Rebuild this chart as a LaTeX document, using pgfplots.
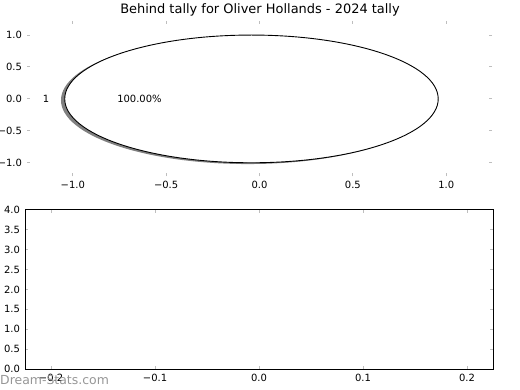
\documentclass[border=0pt]{standalone}
\usepackage{pgfplots}
\pgfplotsset{compat=1.18}
\usepackage{fontspec}
\setmainfont{DejaVu Sans}
\definecolor{tickgray}{RGB}{190,190,190}
\definecolor{shadowgray}{RGB}{128,128,128}
\definecolor{wmgray}{RGB}{150,150,150}
\begin{document}
\begin{tikzpicture}
\useasboundingbox (0,0) rectangle (520bp,390bp);
\pgfplotsset{
  every axis/.append style={
    scale only axis,
    anchor=south west,
    tick align=inside,
    major tick length=3bp,
    every tick/.style={tickgray, line width=1bp},
    tick label style={font=\fontsize{10}{12}\selectfont, text=black},
    /pgf/number format/assume math mode=true,
    xticklabel style={yshift=-1.5bp},
    yticklabel style={xshift=-1.5bp},
  }
}
% top: pie
\begin{axis}[
  at={(27bp,213.5bp)}, width=465bp, height=155.5bp,
  xmin=-1.245, xmax=1.245, ymin=-1.215, ymax=1.22,
  axis line style={draw=none},
  xtick={-1,-0.5,0,0.5,1},
  xticklabels={−1.0,−0.5,0.0,0.5,1.0},
  ytick={-1,-0.5,0,0.5,1},
  yticklabels={−1.0,−0.5,0.0,0.5,1.0},
  clip=false,
]
\fill[shadowgray] (axis cs:-0.063,-0.02) ellipse [x radius=1, y radius=1];
\filldraw[fill=white, draw=black, line width=0.9bp] (axis cs:-0.043,0) ellipse [x radius=1, y radius=1];
\addplot[only marks, mark=none, nodes near coords={1}, every node near coord/.style={font=\fontsize{10}{12}\selectfont, anchor=center}] coordinates {(-1.143,0)};
\addplot[only marks, mark=none, nodes near coords={100.00\%}, every node near coord/.style={font=\fontsize{10}{12}\selectfont, anchor=center}] coordinates {(-0.643,0)};
\end{axis}
% bottom: empty axis
\begin{axis}[
  at={(25bp,21bp)}, width=468bp, height=159bp,
  xmin=-0.225, xmax=0.225, ymin=0, ymax=4,
  axis line style={black, line width=1bp},
  xtick={-0.2,-0.1,0,0.1,0.2},
  xticklabels={−0.2,−0.1,0.0,0.1,0.2},
  ytick={0,0.5,1,1.5,2,2.5,3,3.5,4},
  yticklabels={0.0,0.5,1.0,1.5,2.0,2.5,3.0,3.5,4.0},
]
\end{axis}
\node[font=\fontsize{13}{15}\selectfont] at (260bp,380bp) {Behind tally for Oliver Hollands - 2024 tally};
\node[font=\fontsize{12.5}{14}\selectfont, text=wmgray, anchor=west, inner sep=0pt] at (0bp,10bp) {Dream-Stats.com};
\end{tikzpicture}
\end{document}
